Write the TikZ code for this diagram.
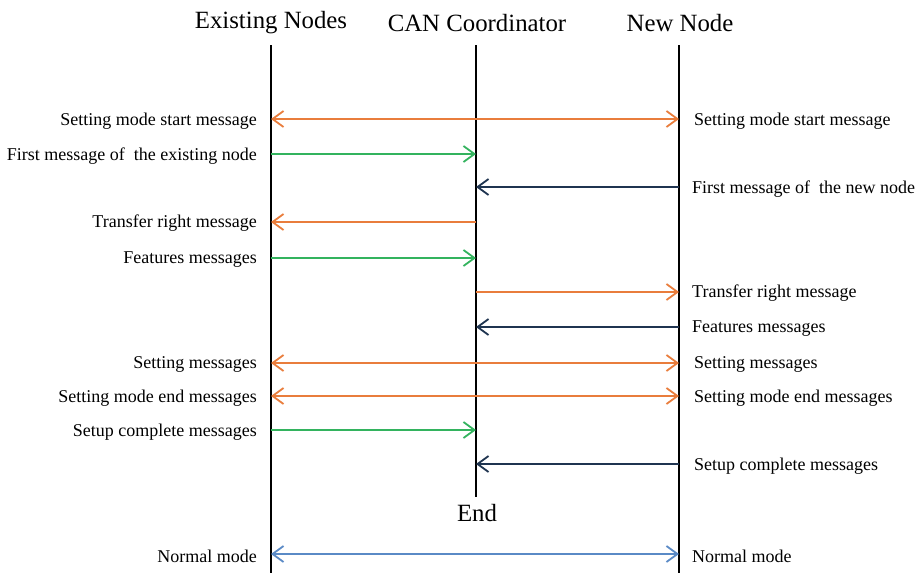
\documentclass[tikz,border=0pt]{standalone}
\usepackage{fontspec}
\setmainfont{Liberation Serif}
\usetikzlibrary{arrows.meta}
\definecolor{msgorange}{HTML}{E97D3C}
\definecolor{msggreen}{HTML}{33B35E}
\definecolor{msgnavy}{HTML}{1F3450}
\definecolor{msgblue}{HTML}{5A8AC6}
\tikzset{
  x=1pt, y=-1pt,
  lifeline/.style={line width=2.4pt, black},
  title/.style={font=\fontsize{24.8}{27}\selectfont, inner sep=0pt},
  lbl/.style={font=\fontsize{18}{20}\selectfont, inner sep=0pt},
  lblL/.style={lbl, anchor=east},
  lblR/.style={lbl, anchor=west},
  barb/.tip={Straight Barb[length=11pt,width=16pt,line width=1.8pt]},
  msg/.style={line width=2pt, -barb},
  msgboth/.style={line width=2pt, barb-barb},
}
\begin{document}
\begin{tikzpicture}
\useasboundingbox (0,0) rectangle (917,573);

% participants
\node[title] (tE) at (271,23) {Existing Nodes};
\node[title] (tC) at (477,23) {CAN Coordinator};
\node[title] (tN) at (680,23) {New Node};

\coordinate (E) at (271,45);
\coordinate (C) at (476,45);
\coordinate (N) at (679,45);
\coordinate (Eend) at (271,573);
\coordinate (Cend) at (476,497);
\coordinate (Nend) at (679,573);
\draw[lifeline] (E) -- (Eend);
\draw[lifeline] (C) -- (Cend);
\draw[lifeline] (N) -- (Nend);
\node[title] (endlbl) at (477,513) {End};

% message rows
\coordinate (r1) at (0,119);
\coordinate (r2) at (0,154);
\coordinate (r3) at (0,187);
\coordinate (r4) at (0,222);
\coordinate (r5) at (0,258);
\coordinate (r6) at (0,292);
\coordinate (r7) at (0,327);
\coordinate (r8) at (0,363);
\coordinate (r9) at (0,396);
\coordinate (r10) at (0,430);
\coordinate (r11) at (0,464);
\coordinate (r12) at (0,554);

\draw[msgboth, msgorange] (E |- r1) -- (N |- r1);
\draw[msg, msggreen] (E |- r2) -- (C |- r2);
\draw[msg, msgnavy] (N |- r3) -- (C |- r3);
\draw[msg, msgorange] (C |- r4) -- (E |- r4);
\draw[msg, msggreen] (E |- r5) -- (C |- r5);
\draw[msg, msgorange] (C |- r6) -- (N |- r6);
\draw[msg, msgnavy] (N |- r7) -- (C |- r7);
\draw[msgboth, msgorange] (E |- r8) -- (N |- r8);
\draw[msgboth, msgorange] (E |- r9) -- (N |- r9);
\draw[msg, msggreen] (E |- r10) -- (C |- r10);
\draw[msg, msgnavy] (N |- r11) -- (C |- r11);
\draw[msgboth, msgblue] (E |- r12) -- (N |- r12);

% labels on the left of the existing nodes
\node[lblL] (l1) at (257,121) {Setting mode start message};
\node[lblL] (l2) at (257,156) {First message of\ \ the existing node};
\node[lblL] (l4) at (257,223) {Transfer right message};
\node[lblL] (l5) at (257,260) {Features messages};
\node[lblL] (l8) at (257,364) {Setting messages};
\node[lblL] (l9) at (257,398) {Setting mode end messages};
\node[lblL] (l10) at (257,432) {Setup complete messages};
\node[lblL] (l12) at (257,556) {Normal mode};

% labels on the right of the new node
\node[lblR] (m1) at (694,121) {Setting mode start message};
\node[lblR] (m3) at (692,189) {First message of\ \ the new node};
\node[lblR] (m6) at (692,293) {Transfer right message};
\node[lblR] (m7) at (692,329) {Features messages};
\node[lblR] (m8) at (694,364) {Setting messages};
\node[lblR] (m9) at (694,398) {Setting mode end messages};
\node[lblR] (m11) at (694,466) {Setup complete messages};
\node[lblR] (m12) at (692,556) {Normal mode};
\end{tikzpicture}
\end{document}
